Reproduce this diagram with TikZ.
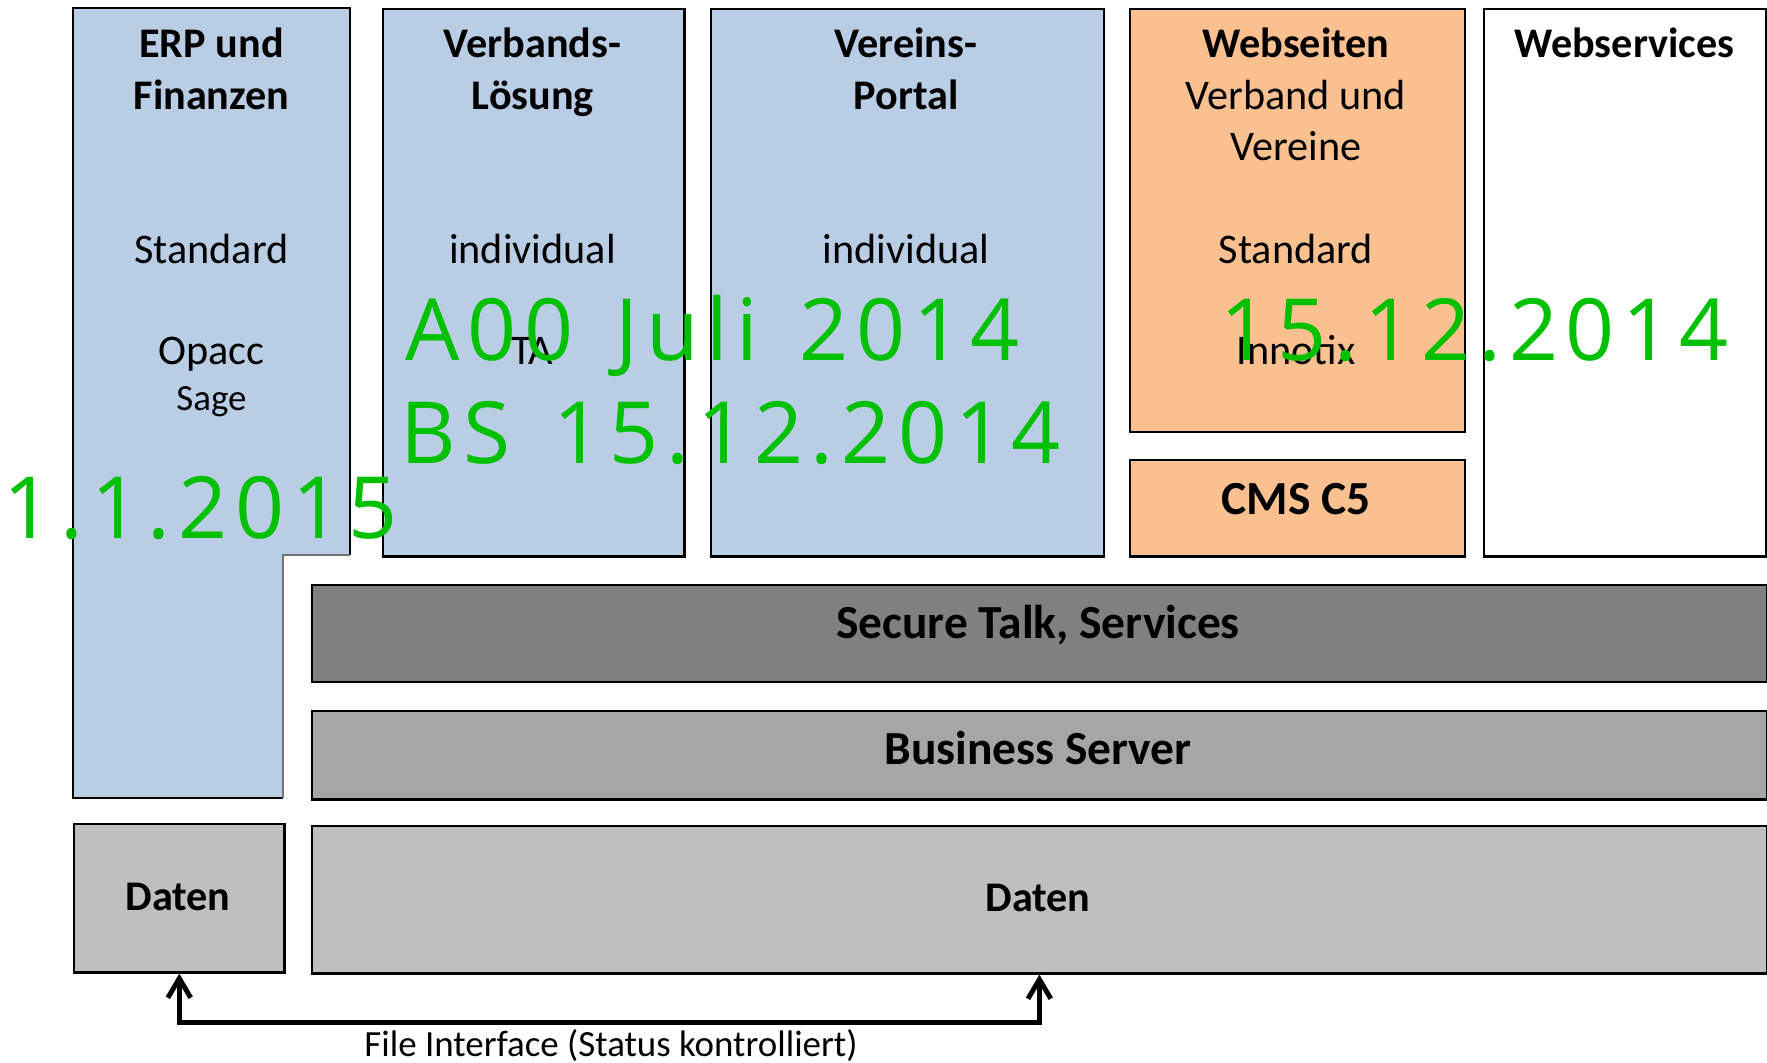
\documentclass[tikz,border=0pt]{standalone}
\usepackage{fontspec}
\setmainfont{Carlito}
\newfontfamily\datefont[LetterSpace=9,WordSpace=1.4]{Open Sans}
\usetikzlibrary{arrows.meta,positioning}
\definecolor{erpblue}{RGB}{185,205,229}
\definecolor{weborange}{RGB}{250,192,144}
\definecolor{stgray}{RGB}{128,128,128}
\definecolor{bsgray}{RGB}{166,166,166}
\definecolor{dbgray}{RGB}{191,191,191}
\definecolor{dategreen}{RGB}{0,192,0}

\begin{document}
\begin{tikzpicture}[x=.01cm,y=-.01cm,
  box/.style={draw,line width=.7pt,anchor=north west,inner sep=0,minimum height=5.47cm},
  lbl/.style={anchor=base,inner sep=0,font=\fontsize{12}{14.5}\selectfont},
  blbl/.style={lbl,font=\fontsize{12}{14.5}\selectfont\bfseries},
  layer/.style={lbl,font=\fontsize{13.5}{16}\selectfont\bfseries},
  date/.style={anchor=base west,inner sep=0,text=dategreen,font=\datefont\fontsize{24.4}{28}\selectfont}]
\useasboundingbox (0,0) rectangle (1767,1062);
\fill[erpblue] (73,8)--(350,8)--(350,555)--(283,555)--(283,798)--(73,798)--cycle;
\draw[line width=.7pt] (283,798)--(73,798)--(73,8)--(350,8)--(350,555);\draw[line width=.7pt,black!55] (350,555)--(283,555)--(283,798);
\node[box,fill=erpblue,minimum width=3.01cm] (vb) at (382,8) {};\node[box,fill=erpblue,minimum width=3.925cm] (vp) at (710,8) {};
\node[box,fill=weborange,minimum width=3.345cm,minimum height=4.225cm] (ws) at (1129,8) {};
\node[box,fill=weborange,minimum width=3.345cm,minimum height=.96cm] (cms) at (1129,459) {};
\node[box,minimum width=2.82cm] (wsv) at (1483,8) {};
\node[box,fill=stgray,minimum width=14.545cm,minimum height=.965cm] (st) at (310.5,584) {};
\node[box,fill=bsgray,minimum width=14.545cm,minimum height=.88cm] (bs) at (310.5,710) {};
\node[box,fill=dbgray,minimum width=2.1cm,minimum height=1.48cm] (dl) at (73,823) {};
\node[box,fill=dbgray,minimum width=14.545cm,minimum height=1.47cm] (dr) at (310.5,825) {};
\node[blbl] (erpa) at (211.5,57) {ERP und};\node[blbl] (erpb) at (211.5,109) {Finanzen};
\node[lbl] (erpc) at (211.5,263) {Standard};\node[lbl] (erpd) at (211.5,364) {Opacc};
\node[lbl,font=\fontsize{10.5}{12}\selectfont] (erpe) at (211.5,410) {Sage};
\node[blbl] (vba) at (532.5,57) {Verbands-};\node[blbl] (vbb) at (532.5,109) {Lösung};
\node[lbl] (vbc) at (532.5,263) {individual};\node[lbl] (vbd) at (532.5,364) {TA};
\node[blbl] (vpa) at (906,57) {Vereins-};\node[blbl] (vpb) at (906,109) {Portal};
\node[lbl] (vpc) at (906,263) {individual};
\node[blbl] (wsa) at (1296,57) {Webseiten};\node[lbl] (wsb) at (1296,109) {Verband und};
\node[lbl] (wsc) at (1296,160) {Vereine};\node[lbl] (wsd) at (1296,263) {Standard};
\node[lbl] (wse) at (1296,364) {Innotix};
\node[layer] (cmsa) at (1296,514) {CMS C5};\node[blbl] (wsva) at (1624.5,57) {Webservices};
\node[layer] (sta) at (1038,638) {Secure Talk, Services};\node[layer] (bsa) at (1038,764) {Business Server};
\node[blbl] (dla) at (178,910) {Daten};\node[blbl] (dra) at (1038,911) {Daten};
\draw[line width=1.4pt,{Straight Barb[length=5.5pt,width=6.5pt]}-{Straight Barb[length=5.5pt,width=6.5pt]}] (dl.south)--++(0,49) -| (dr.south);
\node[lbl,font=\fontsize{10.5}{12}\selectfont] (fi) at (611,1056) {File Interface (Status kontrolliert)};
\node[date] (d1) at (3,538) {1.1.2015};
\node[date] (d2) at (405,360) {A00 Juli 2014};\node[date] (d3) at (400,463) {BS 15.12.2014};
\node[date] (d4) at (1220,360) {15.12.2014};
\end{tikzpicture}
\end{document}
